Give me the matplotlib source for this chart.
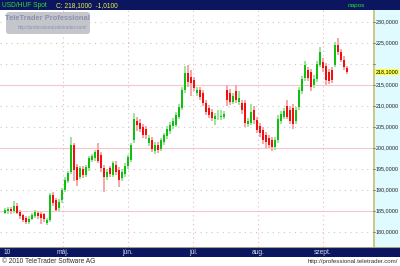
import matplotlib
matplotlib.use("Agg")
import matplotlib.pyplot as plt
from matplotlib.patches import FancyBboxPatch

plt.rcParams['font.family'] = ['Liberation Sans', 'DejaVu Sans']

# napi gyertyák (USD/HUF, 2010 ápr. - szept.)
opens = [184.6, 184.9, 185.5, 185.0, 186.2, 184.8, 184.0, 183.3, 182.5, 183.2,
         183.8, 184.6, 184.4, 184.2, 182.2, 182.9, 188.8, 187.6, 185.6, 187.6,
         190.0, 192.2, 194.3, 200.7, 195.5, 193.2, 195.0, 193.6, 195.2, 197.2,
         197.6, 199.5, 198.3, 195.3, 193.1, 195.2, 193.6, 196.0, 194.8, 192.8,
         193.8, 195.6, 197.2, 201.9, 206.4, 206.0, 205.0, 204.6, 201.2, 201.9,
         199.3, 200.8, 199.8, 201.5, 202.8, 204.0, 205.3, 205.5, 207.5, 209.5,
         213.8, 217.9, 217.0, 216.2, 213.1, 213.8, 213.1, 210.7, 209.5, 208.6,
         207.0, 207.3, 207.3, 207.5, 213.8, 213.0, 211.0, 213.5, 211.0, 210.7,
         210.7, 205.8, 206.0, 209.0, 206.7, 205.3, 204.3, 203.0, 202.5, 201.9,
         200.2, 201.9, 206.5, 207.5, 210.0, 209.0, 209.5, 206.5, 209.8, 213.5,
         216.7, 218.5, 218.0, 215.0, 216.5, 219.8, 220.5, 219.5, 218.0, 218.6,
         219.8, 224.5, 222.9, 221.0, 219.0]
closes = [185.2, 185.5, 184.9, 186.3, 184.6, 183.8, 182.9, 182.5, 183.2, 184.0,
          184.7, 183.9, 183.4, 183.0, 182.9, 188.8, 186.9, 185.2, 187.2, 190.0,
          192.5, 194.0, 200.7, 194.8, 192.4, 195.2, 193.6, 195.5, 197.6, 198.0,
          199.0, 197.0, 195.2, 193.1, 194.4, 193.8, 196.4, 194.2, 192.4, 194.4,
          195.8, 197.8, 200.6, 206.9, 205.4, 204.6, 203.1, 203.1, 202.4, 199.8,
          200.7, 199.6, 201.8, 203.0, 204.5, 205.5, 206.5, 207.9, 209.8, 213.8,
          217.9, 215.7, 215.5, 214.3, 213.8, 212.1, 210.7, 208.6, 207.9, 207.1,
          207.6, 207.5, 207.6, 208.0, 211.4, 211.0, 212.3, 211.5, 211.8, 209.0,
          206.0, 206.5, 208.5, 206.7, 204.3, 203.5, 201.9, 201.5, 200.8, 200.2,
          201.9, 207.0, 208.0, 208.8, 207.5, 206.5, 205.8, 209.0, 213.8, 216.5,
          219.8, 216.7, 214.5, 216.5, 220.0, 222.9, 219.0, 216.2, 216.0, 216.2,
          224.5, 222.9, 221.0, 219.2, 218.1]
highs = [185.8, 186.0, 186.0, 187.4, 186.8, 185.3, 184.4, 183.8, 183.7, 184.5,
         185.2, 185.0, 184.8, 184.6, 183.3, 189.3, 189.5, 188.2, 187.8, 190.5,
         193.0, 194.6, 202.6, 201.3, 196.2, 195.8, 195.6, 196.0, 198.2, 198.6,
         199.6, 201.2, 199.0, 196.0, 195.0, 195.8, 197.0, 196.8, 195.4, 195.0,
         196.4, 198.4, 201.2, 208.3, 207.5, 206.8, 205.6, 205.2, 203.0, 202.6,
         201.4, 201.4, 202.4, 203.6, 205.2, 206.2, 207.2, 208.6, 210.5, 214.6,
         219.6, 219.8, 218.5, 217.0, 214.5, 214.5, 213.8, 211.4, 210.2, 209.4,
         208.3, 209.0, 209.0, 208.8, 215.0, 214.0, 213.0, 215.0, 213.5, 211.5,
         211.4, 207.2, 210.5, 210.0, 207.4, 206.0, 205.0, 203.8, 203.2, 202.6,
         202.6, 207.8, 208.8, 209.6, 211.5, 210.0, 210.5, 209.8, 214.6, 217.2,
         220.8, 219.4, 218.8, 217.4, 220.8, 224.0, 221.4, 220.2, 218.8, 219.4,
         225.2, 226.2, 223.6, 221.8, 219.6]
lows = [184.2, 184.4, 184.4, 184.6, 184.2, 183.2, 182.4, 181.9, 182.0, 182.8,
        183.4, 183.2, 181.8, 182.5, 181.6, 182.3, 186.3, 185.0, 185.0, 187.0,
        189.5, 191.6, 193.8, 192.2, 191.0, 192.6, 192.8, 193.0, 194.6, 196.6,
        197.0, 196.4, 194.4, 189.5, 192.4, 193.0, 193.0, 193.6, 190.6, 192.2,
        193.2, 195.0, 196.6, 201.2, 204.0, 203.8, 202.4, 202.2, 200.4, 199.0,
        198.6, 198.8, 199.2, 200.8, 202.2, 203.4, 204.6, 205.0, 207.0, 209.0,
        213.0, 214.6, 212.5, 213.5, 212.4, 211.4, 210.0, 207.8, 207.2, 206.4,
        205.5, 206.6, 206.6, 206.8, 210.0, 210.2, 210.4, 210.8, 210.2, 208.2,
        205.0, 205.0, 205.4, 205.8, 203.6, 202.6, 201.0, 200.0, 200.0, 199.3,
        199.6, 201.2, 205.8, 206.8, 206.8, 205.6, 204.5, 205.8, 209.0, 212.8,
        216.0, 216.0, 213.5, 214.4, 215.8, 219.2, 218.2, 215.0, 215.2, 215.4,
        219.2, 222.2, 220.4, 218.6, 217.6]

month_labels = ['10', 'máj.', 'jún.', 'júl.', 'aug.', 'szept.']
month_pos = [-0.6, 19.3, 41.0, 62.7, 84.3, 106.0]
y_ticks = [180, 185, 190, 195, 200, 205, 210, 215, 220, 225, 230]
pink_levels = [185, 200, 215]
last_price = 218.1

W, H = 400, 266
navy = '#0b1560'

fig = plt.figure(figsize=(W / 100, H / 100), dpi=100)
fig.patch.set_facecolor('white')


def px(x0, y0, x1, y1):
    # pixel box -> figure fraction [left, bottom, width, height]
    return [x0 / W, 1 - y1 / H, (x1 - x0) / W, (y1 - y0) / H]


ax = fig.add_axes(px(0, 10, 373, 247))
ax.set_xlim(-1.67, 122.67)
ax.set_ylim(176.43, 232.86)
ax.set_facecolor('white')
for s in ax.spines.values():
    s.set_visible(False)
ax.set_xticks([])
ax.set_yticks([])

for v in y_ticks:
    if v in pink_levels:
        ax.axhline(v, color='#f3c8cc', lw=0.8, zorder=0)
    else:
        ax.axhline(v, color='#c8c8c8', lw=0.8, ls=(0, (1, 4)), zorder=0)
for p in month_pos[1:]:
    ax.axvline(p, color='#e8b8c0', lw=0.8, ls=(0, (1, 3)), zorder=0)

idx = list(range(len(closes)))
up = [c >= o for o, c in zip(opens, closes)]
wick_col = ['#9ee69e' if u else '#f7a8ac' for u in up]
body_col = ['#10c010' if u else '#f01010' for u in up]
ax.bar(idx, [h - l for h, l in zip(highs, lows)], bottom=lows, width=0.7,
       color=wick_col, zorder=2)
ax.bar(idx, [max(abs(c - o), 0.15) for o, c in zip(opens, closes)],
       bottom=[min(o, c) for o, c in zip(opens, closes)], width=0.7,
       color=body_col, zorder=3)

# watermark
ax.add_patch(FancyBboxPatch((6 / 373, 1 - 24 / 237), 84 / 373, 22 / 237,
                            boxstyle='round,pad=0,rounding_size=0.01',
                            transform=ax.transAxes, fc='#c4c6cc', ec='none',
                            zorder=4))
ax.text(47 / 373, 1 - 9 / 237, 'TeleTrader Professional', transform=ax.transAxes,
        ha='center', va='center', fontsize=5.4, fontweight='bold',
        color='#8a92b0', zorder=5)
ax.text(52 / 373, 1 - 17.5 / 237, 'http://professional.teletrader.com/',
        transform=ax.transAxes, ha='center', va='center', fontsize=3.3,
        color='#8a92b0', zorder=5)

# right price scale
rax = fig.add_axes(px(373, 10, 400, 247))
rax.set_facecolor('#e0fbff')
rax.set_xlim(0, 1)
rax.set_ylim(ax.get_ylim())
rax.set_xticks([])
rax.set_yticks([])
for s in rax.spines.values():
    s.set_visible(False)
rax.axvline(0.02, color='#c8c070', lw=1.2)
for v in y_ticks:
    rax.plot([0, 0.08], [v, v], color='#808080', lw=0.6)
    if abs(v - last_price) > 2:
        rax.text(0.1, v, f'{v},0000', fontsize=3.9, va='center', ha='left',
                 color='#202020')
rax.text(0.1, last_price, f'{last_price:.4f}'.replace('.', ','), fontsize=3.9,
         va='center', ha='left', color='black',
         bbox=dict(boxstyle='square,pad=0.12', fc='#ffff40', ec='none'))

# top bar
tax = fig.add_axes(px(0, 0, 400, 10))
tax.set_facecolor(navy)
tax.set_xticks([])
tax.set_yticks([])
for s in tax.spines.values():
    s.set_visible(False)
tax.text(0.005, 0.45, 'USD/HUF Spot', color='#30e030', fontsize=4.8,
         va='center', ha='left', transform=tax.transAxes)
tax.text(0.14, 0.45, 'C: 218,1000  -1,0100', color='#f0f040', fontsize=4.8,
         va='center', ha='left', transform=tax.transAxes)
tax.text(0.89, 0.45, 'napos', color='#30e030', fontsize=4.6, va='center',
         ha='center', transform=tax.transAxes)

# bottom time bar
bax = fig.add_axes(px(0, 247, 400, 257))
bax.set_facecolor(navy)
bax.set_xlim(-1.67, -1.67 + 124.34 * 400 / 373)
bax.set_ylim(0, 1)
bax.set_xticks([])
bax.set_yticks([])
for s in bax.spines.values():
    s.set_visible(False)
bax.axhline(0.97, color='#a0a080', lw=0.8)
for p, lab in zip(month_pos, month_labels):
    bax.text(p, 0.45, lab, color='#d8d8e8', fontsize=4.8, va='center',
             ha='left' if lab == '10' else 'center')

fig.text(2 / W, 1 - 261.5 / H, '© 2010 TeleTrader Software AG', fontsize=4.8,
         color='#303030', va='center', ha='left')
fig.text(398 / W, 1 - 261.5 / H, 'http://professional.teletrader.com/',
         fontsize=4.4, color='#303030', va='center', ha='right')

fig.savefig('out.png', dpi=100)
